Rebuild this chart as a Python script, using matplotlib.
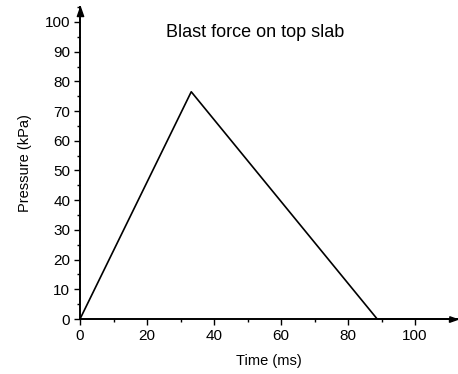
import matplotlib
matplotlib.use("Agg")
import matplotlib.pyplot as plt
from matplotlib.ticker import MultipleLocator

plt.rcParams['font.family'] = ['Liberation Sans', 'DejaVu Sans']

# Triangular blast pulse on the top slab
time_ms = [0, 33.2, 88.7, 112.5]
pressure_kpa = [0, 76.5, 0, 0]

x_ticks = [0, 20, 40, 60, 80, 100]
y_ticks = list(range(0, 101, 10))

x_max = 112.5
y_max = 105

fig = plt.figure(figsize=(4.58, 3.74), dpi=100)
ax = fig.add_axes([0.1747, 0.147, 0.823, 0.834])

ax.plot(time_ms, pressure_kpa, color='black', linewidth=1.2, clip_on=False)

ax.set_xlim(0, x_max)
ax.set_ylim(0, y_max)

ax.set_xticks(x_ticks)
ax.set_yticks(y_ticks)
ax.xaxis.set_minor_locator(MultipleLocator(10))
ax.yaxis.set_minor_locator(MultipleLocator(5))

for side in ['top', 'right']:
    ax.spines[side].set_visible(False)
for side in ['left', 'bottom']:
    ax.spines[side].set_linewidth(1.4)

ax.tick_params(which='major', direction='out', length=4, width=1, labelsize=11, pad=3)
ax.tick_params(which='minor', direction='out', length=2.5, width=1)

# slim arrow heads at the axis ends (tip sits on the point)
up_head = [(0, 0), (-0.35, -1), (0.35, -1), (0, 0)]
right_head = [(0, 0), (-1, 0.35), (-1, -0.35), (0, 0)]
ax.plot(0, 1, marker=up_head, color='black', markersize=13,
        transform=ax.get_xaxis_transform(), clip_on=False)
ax.plot(1, 0, marker=right_head, color='black', markersize=11,
        transform=ax.get_yaxis_transform(), clip_on=False)

ax.set_xlabel('Time (ms)', fontsize=10.5, labelpad=8)
ax.set_ylabel('Pressure (kPa)', fontsize=10.5, labelpad=9)
ax.text(52.2, 96.3, 'Blast force on top slab', fontsize=13, ha='center', va='center')

fig.savefig('out.png', dpi=100)
